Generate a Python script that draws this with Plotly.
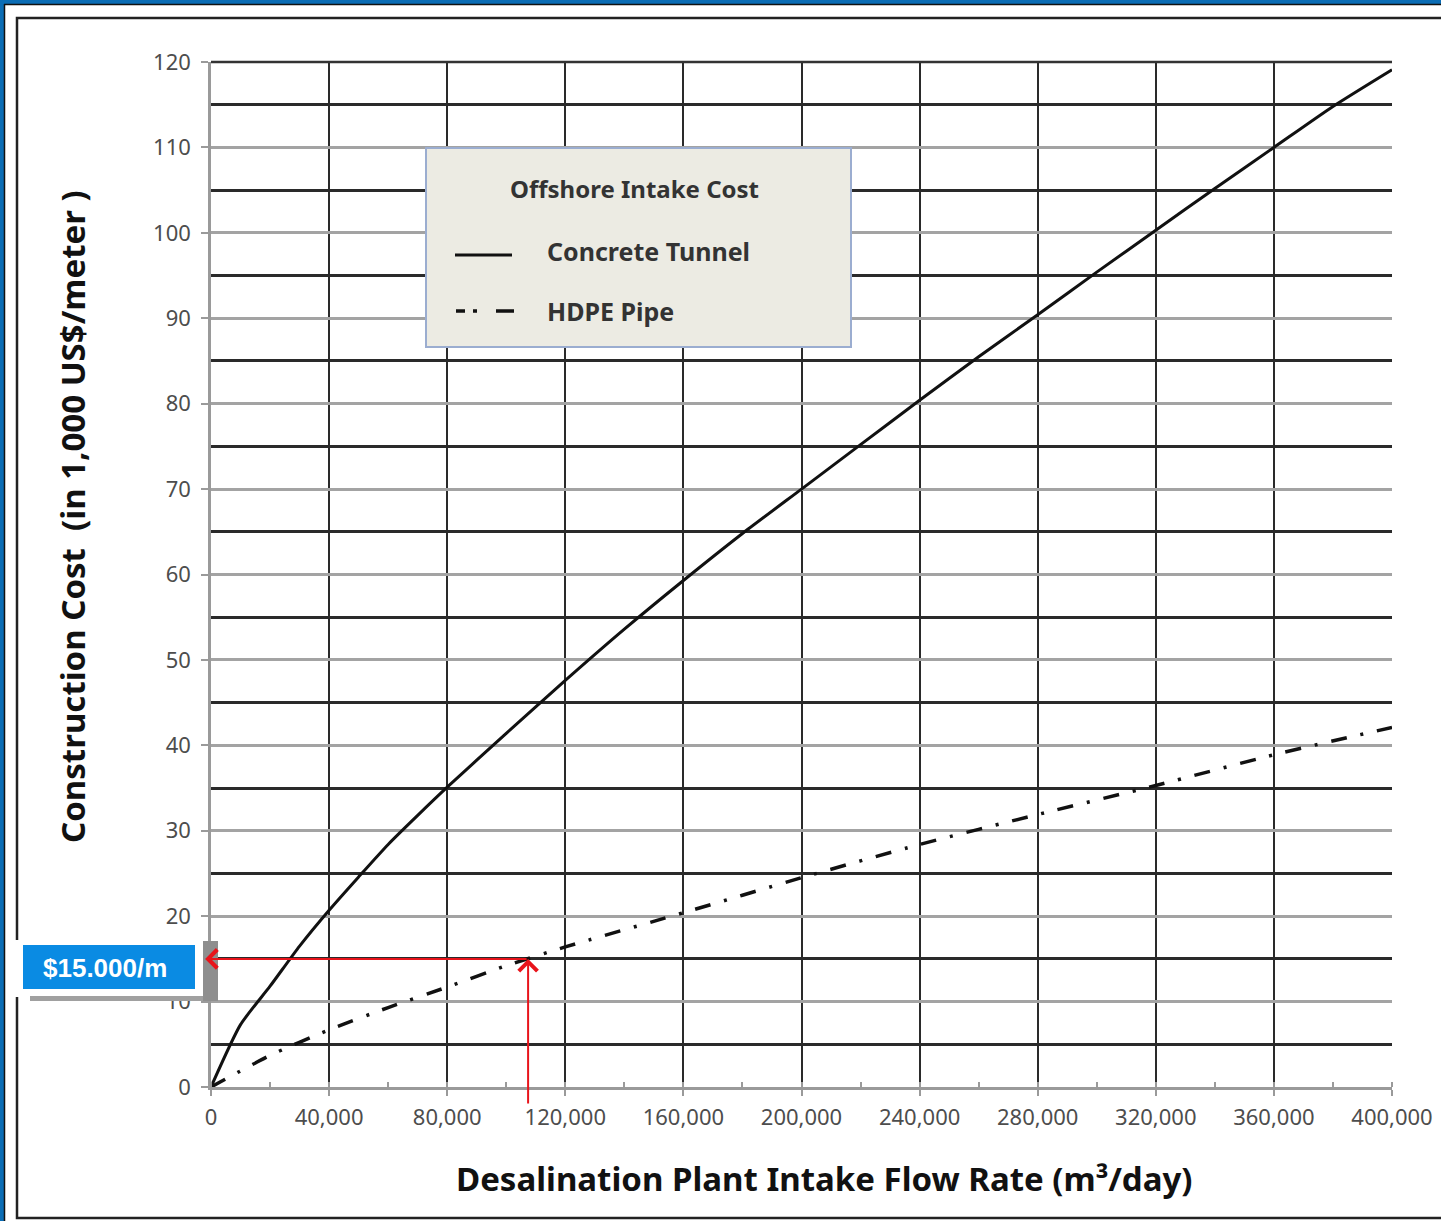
import plotly.graph_objects as go

# ---------------- data ----------------
flow_tunnel = [0, 10000, 20000, 30000, 40000, 50000, 60000, 70000, 80000, 100000, 120000,
               140000, 160000, 180000, 200000, 220000, 240000, 260000, 280000, 300000,
               320000, 340000, 360000, 380000, 400000]
cost_tunnel = [0, 7.3, 11.8, 16.5, 20.7, 24.6, 28.4, 31.8, 35.1, 41.4, 47.6,
               53.6, 59.3, 64.8, 70.0, 75.2, 80.4, 85.5, 90.4, 95.4,
               100.3, 105.2, 110.0, 114.8, 119.1]

flow_hdpe = [0, 20000, 40000, 60000, 80000, 100000, 120000, 160000, 200000,
             240000, 280000, 320000, 360000, 400000]
cost_hdpe = [0, 3.7, 6.7, 9.3, 11.7, 14.2, 16.4, 20.4, 24.5,
             28.4, 31.9, 35.3, 38.9, 42.1]

series_names = ["Concrete Tunnel", "HDPE Pipe"]
legend_title = "Offshore Intake Cost"
x_title = "Desalination Plant Intake Flow Rate (m³/day)"
y_title = "Construction Cost  (in 1,000 US$/meter )"
callout_text = "$15.000/m"
callout_cost = 15          # 1,000 US$/m
callout_flow = 107400      # m3/day

x_ticks = [0, 40000, 80000, 120000, 160000, 200000, 240000, 280000, 320000, 360000, 400000]
y_ticks = [0, 10, 20, 30, 40, 50, 60, 70, 80, 90, 100, 110, 120]

# ---------------- layout geometry ----------------
W, H = 1441, 1221
L, R, T, B = 211, 1392, 62, 1087


def px_x(px):
    return (px - L) / (R - L)


def px_y(py):
    return (B - py) / (B - T)


HDPE_DASH = "16px,14px,3px,14px"
FONT = "Noto Sans"

fig = go.Figure()
fig.add_trace(go.Scatter(x=flow_tunnel, y=cost_tunnel, mode="lines", name=series_names[0],
                         line=dict(color="#111111", width=3, shape="spline", smoothing=0.6),
                         showlegend=False))
fig.add_trace(go.Scatter(x=flow_hdpe, y=cost_hdpe, mode="lines", name=series_names[1],
                         line=dict(color="#111111", width=3.5, dash=HDPE_DASH,
                                   shape="spline", smoothing=0.6),
                         showlegend=False))

shapes = []
# outer blue border
shapes.append(dict(type="rect", xref="paper", yref="paper", x0=px_x(0), x1=px_x(W + 5),
                   y0=px_y(0), y1=px_y(4), fillcolor="#0b6db5", line=dict(width=0), layer="above"))
shapes.append(dict(type="rect", xref="paper", yref="paper", x0=px_x(0), x1=px_x(4),
                   y0=px_y(0), y1=px_y(H + 5), fillcolor="#0b6db5", line=dict(width=0), layer="above"))
shapes.append(dict(type="line", xref="paper", yref="paper", x0=px_x(4), x1=px_x(W + 5),
                   y0=px_y(4.5), y1=px_y(4.5), line=dict(color="#111", width=1.5), layer="above"))
shapes.append(dict(type="line", xref="paper", yref="paper", x0=px_x(4.5), x1=px_x(4.5),
                   y0=px_y(4), y1=px_y(H + 5), line=dict(color="#111", width=1.5), layer="above"))
# inner frame
shapes.append(dict(type="rect", xref="paper", yref="paper", x0=px_x(17), x1=px_x(W + 20),
                   y0=px_y(18), y1=px_y(1218), line=dict(color="#222", width=2.5),
                   fillcolor="rgba(0,0,0,0)", layer="below"))
# top border of plot area
shapes.append(dict(type="line", xref="paper", yref="paper", x0=0, x1=1, y0=1, y1=1,
                   line=dict(color="#333", width=2.5), layer="above"))
# legend box
shapes.append(dict(type="rect", xref="paper", yref="paper", x0=px_x(426), x1=px_x(851),
                   y0=px_y(347), y1=px_y(148), fillcolor="#ecebe3",
                   line=dict(color="#9badd0", width=2), layer="above"))
shapes.append(dict(type="line", xref="paper", yref="paper", x0=px_x(455), x1=px_x(512),
                   y0=px_y(255), y1=px_y(255), line=dict(color="#111", width=3), layer="above"))
shapes.append(dict(type="line", xref="paper", yref="paper", x0=px_x(456), x1=px_x(514),
                   y0=px_y(311), y1=px_y(311),
                   line=dict(color="#111", width=3.5, dash="9px,8px,4px,19px,18px,40px"),
                   layer="above"))
# callout box
shapes.append(dict(type="rect", xref="paper", yref="paper", x0=px_x(14), x1=px_x(203),
                   y0=px_y(997), y1=px_y(940), fillcolor="white", line=dict(width=0), layer="above"))
shapes.append(dict(type="rect", xref="paper", yref="paper", x0=px_x(30), x1=px_x(203),
                   y0=px_y(1001), y1=px_y(996), fillcolor="#a0a0a0", line=dict(width=0), layer="above"))
shapes.append(dict(type="rect", xref="paper", yref="paper", x0=px_x(203), x1=px_x(218),
                   y0=px_y(1001), y1=px_y(941), fillcolor="#8e8e8e", line=dict(width=0), layer="above"))
shapes.append(dict(type="rect", xref="paper", yref="paper", x0=px_x(23), x1=px_x(195),
                   y0=px_y(989), y1=px_y(945), fillcolor="#0a8be3", line=dict(width=0), layer="above"))

annotations = []
annotations.append(dict(xref="paper", yref="paper", x=px_x(634), y=px_y(188), text=legend_title,
                        showarrow=False, xanchor="center", yanchor="middle",
                        font=dict(family=FONT, size=24, color="#333", weight="bold")))
annotations.append(dict(xref="paper", yref="paper", x=px_x(545), y=px_y(251), text=series_names[0],
                        showarrow=False, xanchor="left", yanchor="middle",
                        font=dict(family=FONT, size=25, color="#333", weight="bold")))
annotations.append(dict(xref="paper", yref="paper", x=px_x(545), y=px_y(311), text=series_names[1],
                        showarrow=False, xanchor="left", yanchor="middle",
                        font=dict(family=FONT, size=25, color="#333", weight="bold")))
# axis titles
annotations.append(dict(xref="paper", yref="paper", x=px_x(824), y=px_y(1178), text=x_title,
                        showarrow=False, xanchor="center", yanchor="middle",
                        font=dict(family=FONT, size=33, color="#111", weight="bold")))
annotations.append(dict(xref="paper", yref="paper", x=px_x(72), y=px_y(517), text=y_title,
                        showarrow=False, xanchor="center", yanchor="middle", textangle=-90,
                        font=dict(family=FONT, size=33, color="#111", weight="bold")))
# callout text
annotations.append(dict(xref="paper", yref="paper", x=px_x(105), y=px_y(968), text=callout_text,
                        showarrow=False, xanchor="center", yanchor="middle",
                        font=dict(family="Liberation Sans", size=26, color="white", weight="bold")))
# red arrows
annotations.append(dict(xref="x", yref="y", x=-2000, y=callout_cost, axref="x", ayref="y",
                        ax=callout_flow, ay=callout_cost, text="", showarrow=True,
                        arrowhead=4, arrowsize=1.8, arrowwidth=2, arrowcolor="#e8141b"))
annotations.append(dict(xref="x", yref="y", x=callout_flow, y=callout_cost, axref="x", ayref="y",
                        ax=callout_flow, ay=-2.1, text="", showarrow=True,
                        arrowhead=4, arrowsize=1.8, arrowwidth=2, arrowcolor="#e8141b"))

fig.update_layout(
    width=W, height=H,
    margin=dict(l=L, r=W - R, t=T, b=H - B, autoexpand=False),
    paper_bgcolor="white", plot_bgcolor="white",
    shapes=shapes, annotations=annotations,
    showlegend=False,
    xaxis=dict(range=[0, 400000], tickvals=x_ticks, tickformat=",d",
               showgrid=True, gridcolor="#2a2a2a", gridwidth=2.2, zeroline=False,
               showline=True, linecolor="#9a9a9a", linewidth=2.5,
               ticks="outside", ticklen=6, tickwidth=1.5, tickcolor="#9a9a9a",
               ticklabelstandoff=3,
               minor=dict(dtick=20000, tick0=0, ticks="inside", ticklen=5, tickwidth=1.5,
                          tickcolor="#9a9a9a", showgrid=False),
               tickfont=dict(family=FONT, size=22, color="#4d4d4d")),
    yaxis=dict(range=[0, 120], tickvals=y_ticks,
               showgrid=True, gridcolor="#a3a3a3", gridwidth=3, zeroline=False,
               showline=True, linecolor="#9a9a9a", linewidth=2.5,
               ticks="outside", ticklen=7, tickwidth=1.5, tickcolor="#9a9a9a",
               ticklabelstandoff=6,
               minor=dict(dtick=5, tick0=0, showgrid=True, gridcolor="#2a2a2a", gridwidth=2.5,
                          ticks=""),
               tickfont=dict(family=FONT, size=22, color="#4d4d4d")),
)

fig.write_html("out.html", config={"displayModeBar": False},
               post_script="document.body.style.margin='0';document.body.style.overflow='hidden';")
